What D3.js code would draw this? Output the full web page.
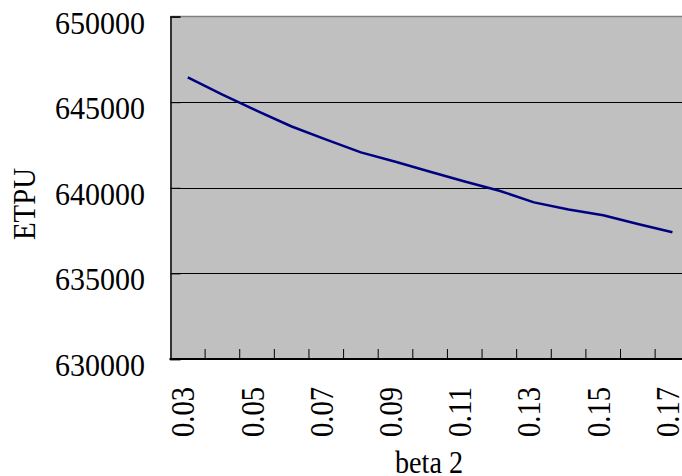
<!DOCTYPE html>
<html>
<head>
<meta charset="utf-8">
<script src="https://cdn.jsdelivr.net/npm/d3@7"></script>
<style>
  html, body { margin: 0; padding: 0; background: #fff; }
  svg { display: block; }
  text { font-family: "Liberation Serif", "DejaVu Serif", serif; fill: #000; }
</style>
</head>
<body>
<svg id="chart" width="682" height="476"></svg>
<script>
// ---- data ----
const categories = ["0.03","0.04","0.05","0.06","0.07","0.08","0.09","0.10","0.11","0.12","0.13","0.14","0.15","0.16","0.17"];
const etpu = [646450, 645440, 644500, 643580, 642810, 642070, 641520, 640940, 640370, 639830, 639150, 638730, 638400, 637890, 637400];
const yTicks = [630000, 635000, 640000, 645000, 650000];
const xLabels = ["0.03","0.05","0.07","0.09","0.11","0.13","0.15","0.17"];
const xTitle = "beta 2";
const yTitle = "ETPU";

// ---- layout ----
const svg = d3.select("#chart");
const pLeft = 170.5, pRight = 689.75, pTop = 16.6, pBottom = 359;

const x = d3.scaleBand().domain(categories).range([pLeft, pRight]).padding(0);
const y = d3.scaleLinear().domain([630000, 650000]).range([pBottom, pTop]);

svg.append("defs").append("clipPath").attr("id", "plotclip")
  .append("rect").attr("x", 0).attr("y", 12.5).attr("width", 682).attr("height", 476);

// plot background
svg.append("rect")
  .attr("x", pLeft).attr("y", pTop)
  .attr("width", pRight - pLeft).attr("height", pBottom - pTop)
  .attr("fill", "#C0C0C0");

// top border
svg.append("line")
  .attr("x1", pLeft).attr("x2", pRight)
  .attr("y1", pTop).attr("y2", pTop)
  .attr("stroke", "#808080").attr("stroke-width", 1.5);

// gridlines
svg.append("g").selectAll("line")
  .data(yTicks.filter(d => d > 630000 && d < 650000))
  .join("line")
  .attr("x1", pLeft).attr("x2", pRight)
  .attr("y1", d => Math.round(y(d)) + 0.5).attr("y2", d => Math.round(y(d)) + 0.5)
  .attr("stroke", "#000").attr("stroke-width", 1);

// y axis (ticks inside)
const yAxis = d3.axisRight(y).tickValues(yTicks).tickSize(10).tickFormat("");
const gy = svg.append("g").attr("transform", `translate(${pLeft},0)`).call(yAxis);
gy.select(".domain").attr("stroke", "#333").attr("stroke-width", 2);
gy.selectAll(".tick line").attr("stroke", "#000");

// y tick labels
svg.append("g").attr("clip-path", "url(#plotclip)")
  .selectAll("text").data(yTicks).join("text")
  .attr("x", 145).attr("y", d => y(d) + 17)
  .attr("text-anchor", "end")
  .attr("font-size", 32)
  .attr("textLength", 90).attr("lengthAdjust", "spacingAndGlyphs")
  .text(d => d3.format("d")(d));

// x axis: ticks between categories, inside
const boundaries = categories.slice(1);
svg.append("g").selectAll("line").data(boundaries).join("line")
  .attr("x1", d => x(d)).attr("x2", d => x(d))
  .attr("y1", pBottom - 10).attr("y2", pBottom)
  .attr("stroke", "#000").attr("stroke-width", 1);
svg.append("line")
  .attr("x1", pLeft - 1).attr("x2", pRight)
  .attr("y1", pBottom).attr("y2", pBottom)
  .attr("stroke", "#000").attr("stroke-width", 2);

// x tick labels (rotated)
svg.append("g").selectAll("text").data(xLabels).join("text")
  .attr("transform", d => `translate(${x(d) + x.bandwidth() / 2 + 6.5},387) rotate(-90)`)
  .attr("text-anchor", "end")
  .attr("font-size", 33)
  .attr("textLength", 50).attr("lengthAdjust", "spacingAndGlyphs")
  .text(d => d);

// line
const line = d3.line()
  .x((d, i) => x(categories[i]) + x.bandwidth() / 2)
  .y(d => y(d));
svg.append("path")
  .datum(etpu)
  .attr("d", line)
  .attr("fill", "none")
  .attr("stroke", "#000080")
  .attr("stroke-width", 2.5)
  .attr("stroke-linejoin", "round");

// axis titles
svg.append("text")
  .attr("x", 429).attr("y", 473)
  .attr("text-anchor", "middle")
  .attr("font-size", 31)
  .attr("textLength", 68).attr("lengthAdjust", "spacingAndGlyphs")
  .text(xTitle);

svg.append("text")
  .attr("transform", "translate(35,204) rotate(-90)")
  .attr("text-anchor", "middle")
  .attr("font-size", 32)
  .attr("textLength", 72).attr("lengthAdjust", "spacingAndGlyphs")
  .text(yTitle);
</script>
</body>
</html>
